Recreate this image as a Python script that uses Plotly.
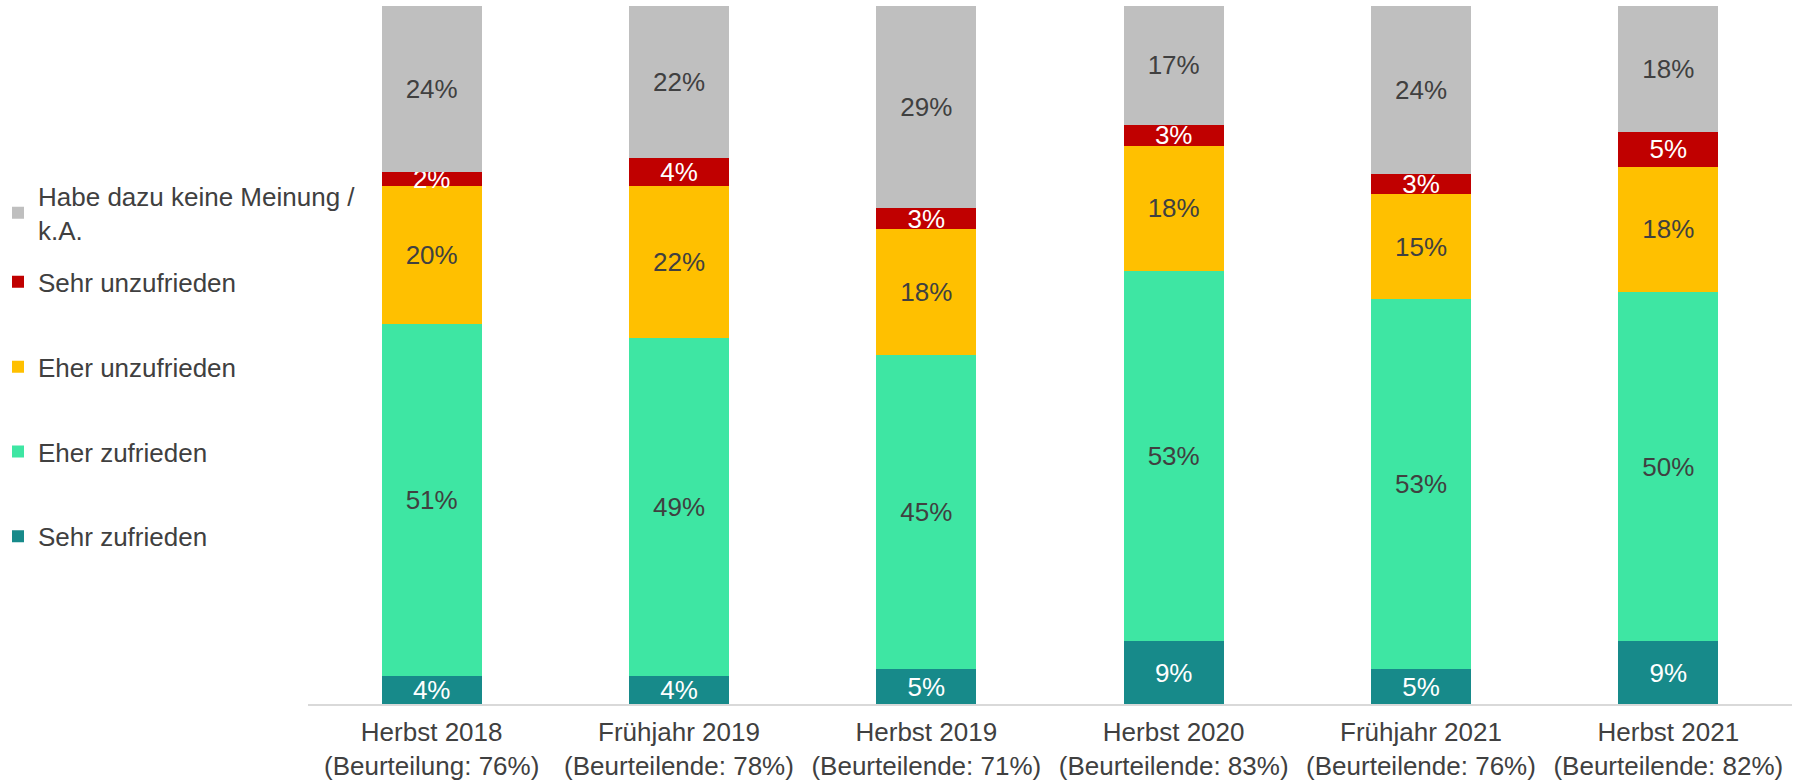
import plotly.graph_objects as go

categories = [
    "Herbst 2018<br>(Beurteilung: 76%)",
    "Frühjahr 2019<br>(Beurteilende: 78%)",
    "Herbst 2019<br>(Beurteilende: 71%)",
    "Herbst 2020<br>(Beurteilende: 83%)",
    "Frühjahr 2021<br>(Beurteilende: 76%)",
    "Herbst 2021<br>(Beurteilende: 82%)",
]
sehr_zufrieden = [4, 4, 5, 9, 5, 9]
eher_zufrieden = [51, 49, 45, 53, 53, 50]
eher_unzufrieden = [20, 22, 18, 18, 15, 18]
sehr_unzufrieden = [2, 4, 3, 3, 3, 5]
keine_meinung = [24, 22, 29, 17, 24, 18]

series = [
    ("Sehr zufrieden", sehr_zufrieden, "#178a8a", "white", "legend", 4),
    ("Eher zufrieden", eher_zufrieden, "#3ee6a3", "#404040", "legend", 3),
    ("Eher unzufrieden", eher_unzufrieden, "#ffc000", "#404040", "legend", 2),
    ("Sehr unzufrieden", sehr_unzufrieden, "#c00000", "white", "legend", 1),
    ("Habe dazu keine Meinung /<br>k.A.", keine_meinung, "#bfbfbf", "#404040", "legend2", 1),
]

FONT = "Liberation Sans, Arial, sans-serif"
fig = go.Figure()
for name, vals, color, tcolor, lg, rank in series:
    fig.add_trace(go.Bar(
        x=categories, y=vals, name=name,
        marker=dict(color=color, line=dict(width=0)),
        text=[f"{v}%" for v in vals], texttemplate="%{text}",
        textposition="inside", insidetextanchor="middle",
        textfont=dict(color=tcolor, size=26, family=FONT),
        legendgroup=name, legend=lg, legendrank=rank,
    ))

LX = -310 / 1484
fig.update_layout(
    width=1802, height=784,
    barmode="stack", barnorm="percent", bargap=0.595,
    plot_bgcolor="white", paper_bgcolor="white",
    margin=dict(l=308, r=10, t=6, b=80, autoexpand=False),
    font=dict(family=FONT, size=26, color="#404040"),
    uniformtext=dict(minsize=26, mode="show"),
    showlegend=True,
    legend=dict(x=LX, xanchor="left", y=0.422, yanchor="middle",
                traceorder="grouped", tracegroupgap=48,
                font=dict(size=26, color="#404040"), bgcolor="rgba(0,0,0,0)"),
    legend2=dict(x=LX, xanchor="left", y=0.7034, yanchor="middle",
                 font=dict(size=26, color="#404040"), bgcolor="rgba(0,0,0,0)"),
)
fig.update_xaxes(showline=True, linecolor="#d9d9d9", linewidth=1.5,
                 ticks="", showgrid=False, ticklabelstandoff=4, automargin=False,
                 tickfont=dict(size=26, color="#404040"))
fig.update_yaxes(range=[0, 100], visible=False, showgrid=False, automargin=False)

fig.write_html("out.html", config={"displayModeBar": False},
               post_script="document.body.style.margin='0';")
